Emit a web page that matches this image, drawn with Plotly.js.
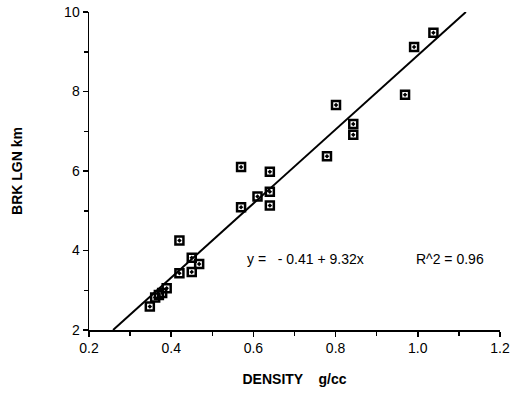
<!DOCTYPE html>
<html>
<head>
<meta charset="utf-8">
<script src="https://cdn.plot.ly/plotly-3.0.1.min.js"></script>
<style>html,body{margin:0;padding:0;background:#fff;}#chart{width:515px;height:400px;}</style>
</head>
<body>
<div id="chart"></div>
<script>
const density = [0.348, 0.361, 0.370, 0.378, 0.389, 0.420, 0.420, 0.450, 0.450, 0.468, 0.570, 0.570, 0.610, 0.640, 0.640, 0.640, 0.779, 0.801, 0.843, 0.843, 0.969, 0.991, 1.038];
const brkLgn  = [2.59, 2.82, 2.88, 2.93, 3.05, 3.43, 4.25, 3.46, 3.82, 3.66, 5.09, 6.10, 5.36, 5.13, 5.48, 5.98, 6.37, 7.66, 6.91, 7.18, 7.92, 9.12, 9.48];
const fitIntercept = -0.41;
const fitSlope = 9.32;
const xTicks = [0.2, 0.4, 0.6, 0.8, 1.0, 1.2];
const yTicks = [2, 4, 6, 8, 10];

const yMin = 2, yMax = 10;
const fitX = [(yMin - fitIntercept) / fitSlope, (yMax - fitIntercept) / fitSlope];
const fitY = fitX.map(x => fitIntercept + fitSlope * x);

const font = {family: 'Liberation Sans, Arial, sans-serif', color: '#000'};

Plotly.newPlot('chart', [
  {x: fitX, y: fitY, mode: 'lines', line: {color: '#000', width: 2}, hoverinfo: 'skip'},
  {x: density, y: brkLgn, mode: 'markers',
   marker: {symbol: 'square-open-dot', size: 8, color: '#000', line: {color: '#000', width: 2.5}}}
], {
  width: 515, height: 400,
  margin: {l: 89, r: 15, t: 12, b: 70},
  paper_bgcolor: '#fff', plot_bgcolor: '#fff',
  showlegend: false,
  font: Object.assign({size: 14}, font),
  xaxis: {
    range: [0.2, 1.2], tickvals: xTicks, ticktext: xTicks.map(v => v.toFixed(1)),
    showgrid: false, zeroline: false, showline: true, linecolor: '#000', linewidth: 1.5,
    ticks: 'outside', ticklen: 5, tickwidth: 1.5, tickcolor: '#000',
    minor: {dtick: 0.1, ticks: 'outside', ticklen: 4, tickwidth: 1.5, tickcolor: '#000'},
    tickfont: Object.assign({size: 14}, font),
    title: {text: '<b>DENSITY    g/cc</b>', font: Object.assign({size: 14}, font), standoff: 19}
  },
  yaxis: {
    range: [2, 10], tickvals: yTicks,
    showgrid: false, zeroline: false, showline: true, linecolor: '#000', linewidth: 1.5,
    ticks: 'outside', ticklen: 5, tickwidth: 1.5, tickcolor: '#000',
    minor: {dtick: 1, ticks: 'outside', ticklen: 4, tickwidth: 1.5, tickcolor: '#000'},
    tickfont: Object.assign({size: 14}, font),
    title: {text: '<b>BRK LGN km</b>', font: Object.assign({size: 14}, font), standoff: 38}
  },
  annotations: [
    {x: 0.58, y: 3.79, xref: 'x', yref: 'y', text: 'y =   - 0.41 + 9.32x', showarrow: false,
     xanchor: 'left', font: Object.assign({size: 14}, font)},
    {x: 0.99, y: 3.79, xref: 'x', yref: 'y', text: 'R^2 = 0.96', showarrow: false,
     xanchor: 'left', font: Object.assign({size: 14}, font)}
  ]
}, {displayModeBar: false, staticPlot: true});
</script>
</body>
</html>
